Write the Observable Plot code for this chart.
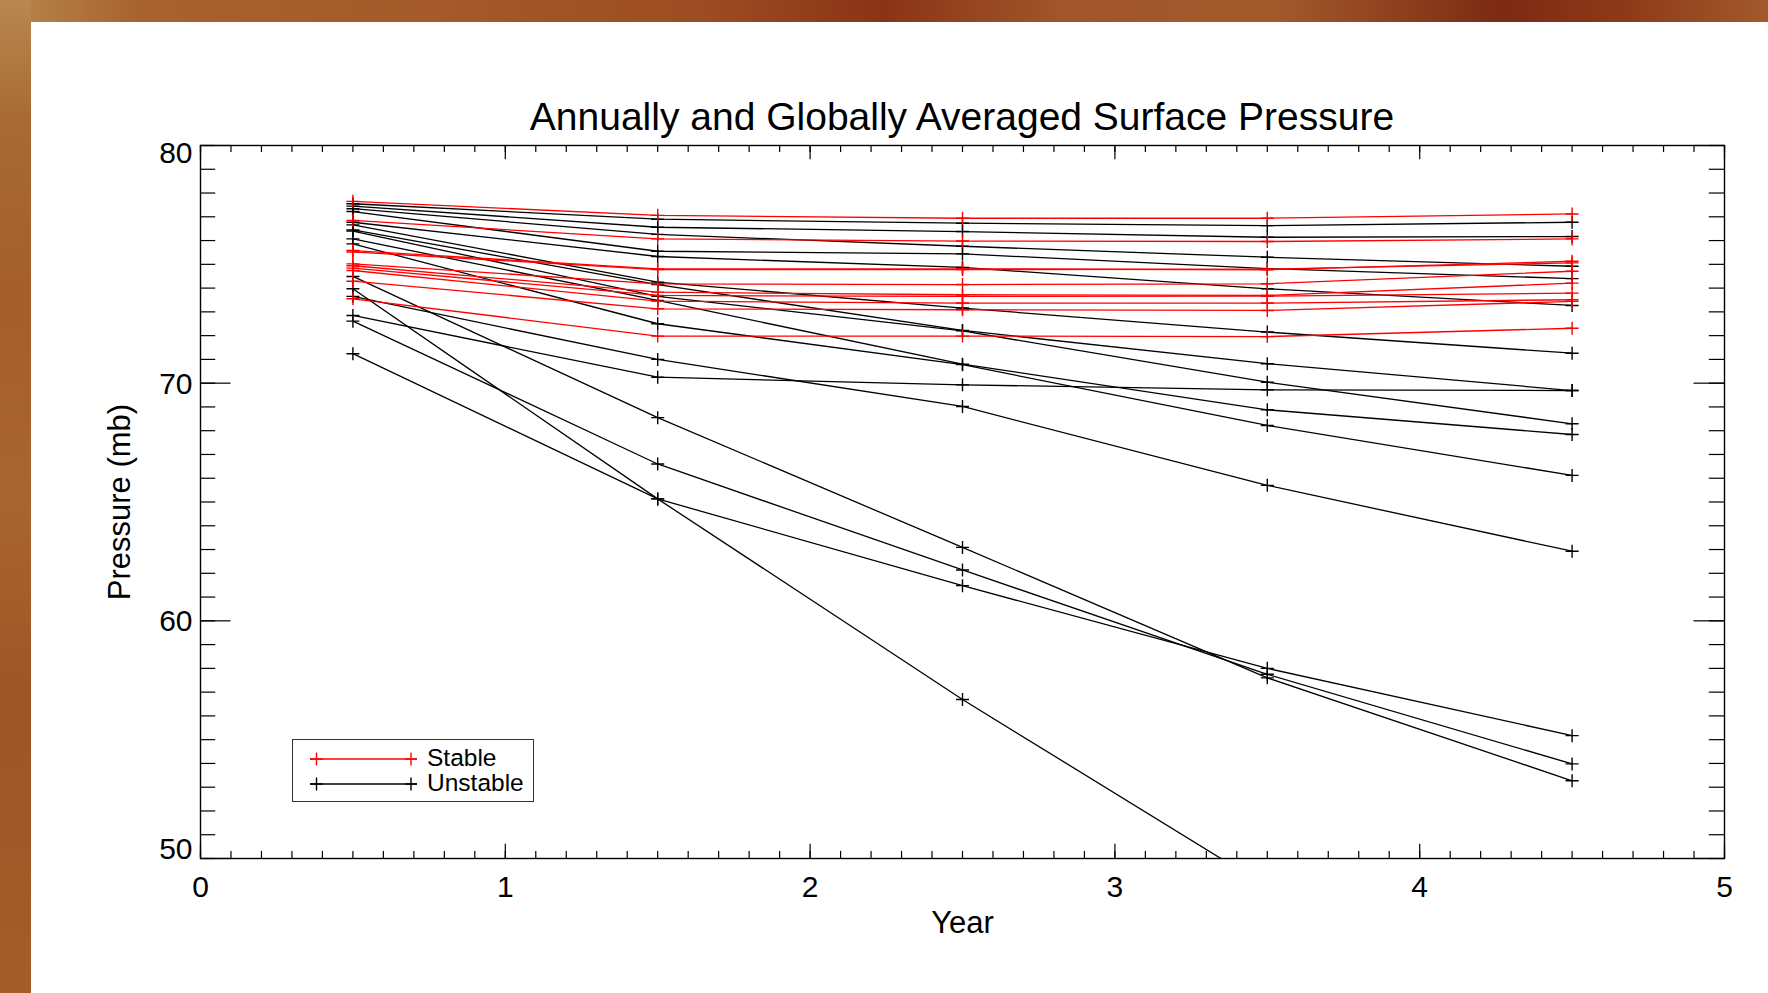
<!DOCTYPE html>
<html>
<head>
<meta charset="utf-8">
<script src="https://cdn.jsdelivr.net/npm/d3@7"></script>
<script src="https://cdn.jsdelivr.net/npm/@observablehq/plot@0.6"></script>
<style>
  html, body { margin: 0; padding: 0; width: 1768px; height: 993px; overflow: hidden; font-family: "Liberation Sans", Arial, Helvetica, sans-serif; }
  #topstrip { position: absolute; left: 0; top: 0; width: 1768px; height: 22px;
    background: linear-gradient(90deg, #b8884f 0%, #a8622e 8%, #a45a2a 25%, #9c4c22 40%, #8a3417 50%, #a0552a 60%, #a25a2c 72%, #7c2a12 85%, #8e3a19 92%, #a25a2b 100%); }
  #leftstrip { position: absolute; left: 0; top: 0; width: 31px; height: 993px;
    background: linear-gradient(180deg, #b8884f 0%, #a86a34 12%, #a45e2c 30%, #a9652f 50%, #9e5526 70%, #a45c2a 100%); }
  #panel { position: absolute; left: 31px; top: 22px; width: 1737px; height: 971px; background: #ffffff; }
  #title { position: absolute; left: 200px; width: 1524px; top: 97px; text-align: center; font-size: 39px; line-height: 39px; color: #000; white-space: nowrap; }
  #chart { position: absolute; left: 0; top: 0; }
  #legend { position: absolute; left: 292px; top: 739px; width: 240px; height: 61px; border: 1px solid #333; background: #fff; }
  .lg-row { position: absolute; left: 0; height: 20px; }
  .lg-row svg { position: absolute; left: 16px; top: 3px; }
  .lg-row span { position: absolute; left: 134px; top: -4px; font-size: 24.5px; line-height: 26px; color: #000; white-space: nowrap; }
</style>
</head>
<body>
<div id="topstrip"></div>
<div id="leftstrip"></div>
<div id="panel"></div>
<div id="chart"></div>
<div id="title">Annually and Globally Averaged Surface Pressure</div>
<div id="legend"></div>
<script>
// ---- data ----
const years = [0.5, 1.5, 2.5, 3.5, 4.5];

// Stable runs (red)
const stableRuns = [
  [77.65, 77.06, 76.94, 76.94, 77.12],
  [76.85, 76.07, 75.98, 75.96, 76.07],
  [75.58, 74.81, 74.81, 74.77, 75.13],
  [75.52, 74.78, 74.78, 74.80, 75.06],
  [75.02, 74.18, 74.15, 74.18, 74.71],
  [74.94, 73.83, 73.72, 73.69, 74.21],
  [74.84, 73.69, 73.65, 73.66, 73.79],
  [74.74, 73.45, 73.37, 73.37, 73.51],
  [74.29, 73.13, 73.09, 73.06, 73.44],
  [73.55, 71.98, 71.98, 71.96, 72.31]
];

// Unstable runs (black)
const unstableRuns = [
  [77.55, 76.90, 76.73, 76.63, 76.77],
  [77.45, 76.56, 76.38, 76.14, 76.17],
  [77.34, 76.26, 75.76, 75.30, 74.92],
  [77.22, 75.55, 75.44, 74.82, 74.40],
  [76.77, 75.33, 74.87, 73.97, 73.27],
  [76.66, 74.25, 73.16, 72.15, 71.26],
  [76.45, 74.15, 72.22, 70.82, 69.69],
  [76.40, 73.65, 72.20, 70.04, 68.29],
  [76.07, 73.48, 70.80, 68.88, 67.84],
  [75.86, 72.50, 70.78, 68.22, 66.12],
  [73.65, 71.00, 69.02, 65.70, 62.93],
  [72.85, 70.25, 69.93, 69.72, 69.69],
  [74.49, 68.55, 63.09, 57.60, 53.27],
  [72.61, 66.60, 62.14, 57.75, 53.98],
  [71.24, 65.13, 61.48, 58.00, 55.17],
  [73.97, 65.13, 56.69, 48.80, 41.00]
];

const xTickLabels = [0, 1, 2, 3, 4, 5];
const yTickLabels = [50, 60, 70, 80];
const legendLabels = ["Stable", "Unstable"];

// ---- build long table ----
function toRows(runs, group) {
  const out = [];
  runs.forEach((vals, i) => vals.forEach((p, j) => out.push({run: group + i, group, year: years[j], p})));
  return out;
}
const stableRows = toRows(stableRuns, "Stable");
const unstableRows = toRows(unstableRuns, "Unstable");

// thin "+" marker
const plusSymbol = {
  draw(ctx, size) {
    const r = Math.sqrt(size / Math.PI);
    ctx.moveTo(-r, 0); ctx.lineTo(r, 0);
    ctx.moveTo(0, -r); ctx.lineTo(0, r);
  }
};

const W = 1768, H = 993, mL = 200, mR = 44, mT = 145, mB = 135;
const fw = W - mL - mR, fh = H - mT - mB;
const xMajor = d3.range(0, 6);
const xMinor = d3.range(0, 51).map(i => i / 10);
const yMajor = d3.range(50, 81, 10);
const yMinor = d3.range(50, 81, 1);
const xMaj = 14.3, xMin = 7.1, yMaj = 30.5, yMin = 15.2;
const ax = {stroke: "#000", strokeWidth: 1.2};

const chart = Plot.plot({
  width: W, height: H,
  marginLeft: mL, marginRight: mR, marginTop: mT, marginBottom: mB,
  x: {domain: [0, 5], axis: null},
  y: {domain: [50, 80], axis: null},
  style: {background: "transparent", fontFamily: "'Liberation Sans', Arial, Helvetica, sans-serif", color: "#000", overflow: "visible"},
  marks: [
    // ticks: bottom & top (inward)
    Plot.tickX(xMinor, {x: d => d, insetTop: fh - xMin, ...ax}),
    Plot.tickX(xMajor, {x: d => d, insetTop: fh - xMaj, ...ax}),
    Plot.tickX(xMinor, {x: d => d, insetBottom: fh - xMin, ...ax}),
    Plot.tickX(xMajor, {x: d => d, insetBottom: fh - xMaj, ...ax}),
    // ticks: left & right (inward)
    Plot.tickY(yMinor, {y: d => d, insetRight: fw - yMin, ...ax}),
    Plot.tickY(yMajor, {y: d => d, insetRight: fw - yMaj, ...ax}),
    Plot.tickY(yMinor, {y: d => d, insetLeft: fw - yMin, ...ax}),
    Plot.tickY(yMajor, {y: d => d, insetLeft: fw - yMaj, ...ax}),
    // data
    Plot.line(unstableRows, {x: "year", y: "p", z: "run", stroke: "#000", strokeWidth: 1.3, clip: true}),
    Plot.dot(unstableRows, {x: "year", y: "p", symbol: plusSymbol, r: 6.5, stroke: "#000", fill: "none", strokeWidth: 1.4, clip: true}),
    Plot.line(stableRows, {x: "year", y: "p", z: "run", stroke: "#ff0000", strokeWidth: 1.3, clip: true}),
    Plot.dot(stableRows, {x: "year", y: "p", symbol: plusSymbol, r: 6.5, stroke: "#ff0000", fill: "none", strokeWidth: 1.4, clip: true}),
    Plot.frame({stroke: "#000", strokeWidth: 1.4}),
    // tick labels
    Plot.text(xTickLabels, {x: d => d, frameAnchor: "bottom", lineAnchor: "top", dy: 17, text: d => String(d), fontSize: 30, fill: "#000"}),
    Plot.text(yTickLabels.filter(d => d === 80), {y: d => d, frameAnchor: "left", textAnchor: "end", lineAnchor: "middle", dx: -8, dy: 7.5, text: d => String(d), fontSize: 30, fill: "#000"}),
    Plot.text(yTickLabels.filter(d => d === 60 || d === 70), {y: d => d, frameAnchor: "left", textAnchor: "end", lineAnchor: "middle", dx: -8, dy: 1, text: d => String(d), fontSize: 30, fill: "#000"}),
    Plot.text(yTickLabels.filter(d => d === 50), {y: d => d, frameAnchor: "left", textAnchor: "end", lineAnchor: "middle", dx: -8, dy: -9, text: d => String(d), fontSize: 30, fill: "#000"}),
    // axis titles
    Plot.text(["Year"], {frameAnchor: "bottom", textAnchor: "middle", lineAnchor: "middle", dy: 64.5, text: d => d, fontSize: 31, fill: "#000"}),
    Plot.text(["Pressure (mb)"], {frameAnchor: "left", textAnchor: "middle", lineAnchor: "middle", dx: -80, rotate: -90, text: d => d, fontSize: 31, fill: "#000"})
  ]
});
document.getElementById("chart").appendChild(chart);

// ---- legend ----
const legendColors = ["#ff0000", "#000000"];
const legendEl = document.getElementById("legend");
legendLabels.forEach((label, i) => {
  const row = document.createElement("div");
  row.className = "lg-row";
  row.style.top = (9 + i * 24.5) + "px";
  const c = legendColors[i];
  row.innerHTML =
    `<svg width="110" height="14" viewBox="0 0 110 14">` +
    `<line x1="1" y1="7" x2="108" y2="7" stroke="${c}" stroke-width="1.3"/>` +
    `<path d="M1,7H14M7.5,0.5V13.5M96,7H108M102,0.5V13.5" stroke="${c}" stroke-width="1.4" fill="none"/>` +
    `</svg><span>${label}</span>`;
  legendEl.appendChild(row);
});
</script>
</body>
</html>
